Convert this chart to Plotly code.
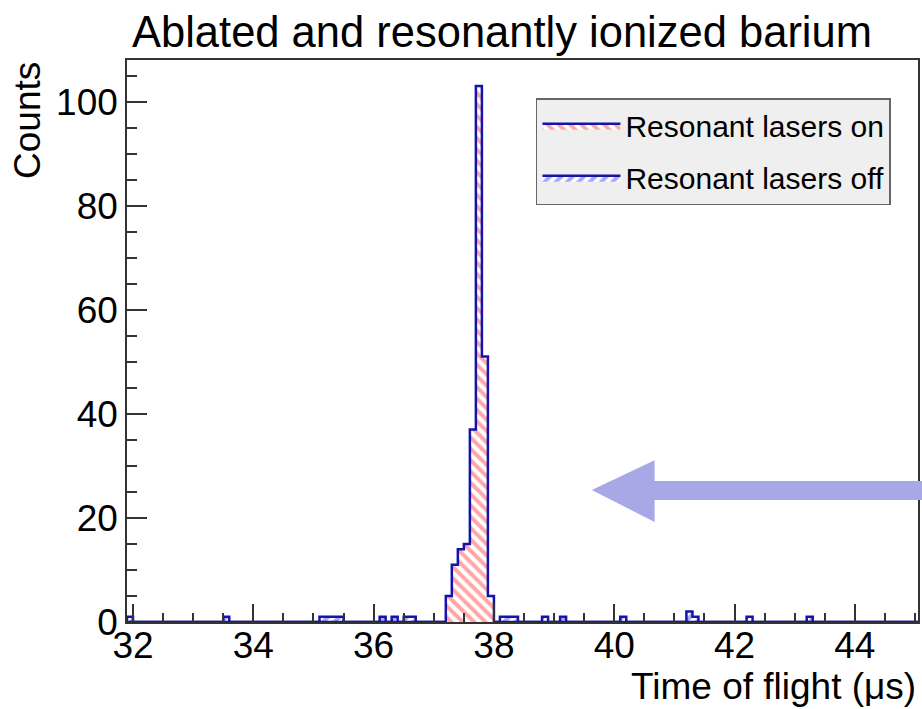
import numpy as np
import plotly.graph_objects as go

# ---- data ----
bin_width = 0.1
x_start = 31.9
n_bins = 132

on_bins = [37.2, 37.3, 37.4, 37.5, 37.6, 37.7, 37.8, 37.9]
on_counts = [5, 11, 14, 15, 37, 103, 51, 5]

off_bins = [31.9, 33.5, 35.1, 35.2, 35.3, 35.4, 36.1, 36.3, 36.5, 36.6,
            38.1, 38.2, 38.3, 38.8, 39.1, 40.1, 41.2, 41.3, 42.2, 43.2]
off_counts = [1, 1, 1, 1, 1, 1, 1, 1, 1, 1,
              1, 1, 1, 1, 1, 1, 2, 1, 1, 1]

x_ticks = [32, 34, 36, 38, 40, 42, 44]
y_ticks = [0, 20, 40, 60, 80, 100]

title_text = "Ablated and resonantly ionized barium"
x_title = "Time of flight (\u03bcs)"
y_title = "Counts"
series_names = ["Resonant lasers on", "Resonant lasers off"]


def step_arrays(bins, counts):
    edges = x_start + bin_width * np.arange(n_bins + 1)
    vals = np.zeros(n_bins)
    for b, c in zip(bins, counts):
        idx = int(round((b - x_start) / bin_width))
        vals[idx] = c
    xs = np.concatenate([[edges[0]], edges[:-1], [edges[-1]], [edges[-1]]])
    ys = np.concatenate([[0], vals, [vals[-1]], [0]])
    return xs, ys


FONT = "Liberation Sans, Arial, Helvetica, sans-serif"
LINE_BLUE = "rgb(20,20,170)"

fig = go.Figure()

xo, yo = step_arrays(off_bins, off_counts)
fig.add_trace(go.Scatter(
    x=xo, y=yo, mode="lines", line=dict(shape="hv", color=LINE_BLUE, width=2.5),
    fill="tozeroy", fillcolor="rgba(0,0,0,0)",
    fillpattern=dict(shape="/", fgcolor="rgb(80,80,255)", bgcolor="white",
                     size=8, solidity=0.5),
    name=series_names[1], legendgroup="off", legendrank=2,
))

xn, yn = step_arrays(on_bins, on_counts)
fig.add_trace(go.Scatter(
    x=xn, y=yn, mode="lines", line=dict(shape="hv", color=LINE_BLUE, width=2.5),
    fill="tozeroy", fillcolor="rgba(0,0,0,0)",
    fillpattern=dict(shape="\\", fgcolor="rgb(255,80,80)", bgcolor="white",
                     size=8, solidity=0.5),
    name=series_names[0], legendgroup="on", legendrank=1,
))

axis_common = dict(
    showline=True, linecolor="#333333", linewidth=1.5, mirror=True,
    ticks="inside", tickcolor="#333333", showgrid=False, zeroline=False,
    tickfont=dict(family=FONT, size=37, color="black"),
)

fig.update_layout(
    width=922, height=709,
    margin=dict(l=127, r=2, t=60, b=87),
    paper_bgcolor="white", plot_bgcolor="white",
    showlegend=True,
    legend=dict(
        x=0.517, y=0.932, xanchor="left", yanchor="top",
        bgcolor="#efefef", bordercolor="#666666", borderwidth=1.5,
        font=dict(family=FONT, size=30, color="black"),
        traceorder="grouped", tracegroupgap=10, itemwidth=78,
    ),
    xaxis=dict(range=[31.9, 45.05], tickvals=x_ticks, ticklen=18, tickwidth=1.5,
               ticklabelstandoff=-10,
               minor=dict(dtick=0.5, ticks="inside", ticklen=9, tickcolor="#333333"),
               **axis_common),
    yaxis=dict(range=[0, 108], tickvals=y_ticks, ticklen=20, tickwidth=1.5,
               minor=dict(dtick=5, ticks="inside", ticklen=10, tickcolor="#333333"),
               **axis_common),
)

fig.add_annotation(text=title_text, xref="paper", yref="paper", x=0.004, y=1.0,
                   xanchor="left", yanchor="bottom", yshift=2, showarrow=False,
                   font=dict(family=FONT, size=43.5, color="black"))
fig.add_annotation(text=x_title, xref="paper", yref="paper", x=1.0, y=0,
                   xanchor="right", yanchor="top", yshift=-42, showarrow=False,
                   font=dict(family=FONT, size=37, color="black"))
fig.add_annotation(text=y_title, xref="paper", yref="paper", x=0, y=1.0,
                   xanchor="right", yanchor="top", xshift=-77, textangle=-90,
                   showarrow=False,
                   font=dict(family=FONT, size=37, color="black"))

# decorative arrow (paper coordinates)
fig.add_shape(
    type="path", xref="paper", yref="paper",
    path="M 0.5876 0.2349 L 0.667 0.288 L 0.667 0.2509 L 1.01 0.2509 "
         "L 1.01 0.2171 L 0.667 0.2171 L 0.667 0.178 Z",
    fillcolor="rgb(168,168,230)", line=dict(width=0), layer="above",
)

fig.write_html("out.html")
